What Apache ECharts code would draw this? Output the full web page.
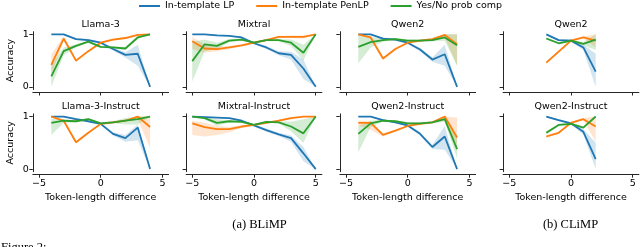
<!DOCTYPE html>
<html><head><meta charset="utf-8">
<script src="https://cdn.jsdelivr.net/npm/echarts@6/dist/echarts.min.js"></script>
<style>html,body{margin:0;padding:0;background:#fff;overflow:hidden}#c{width:640px;height:247px}</style>
</head><body><div id="c"></div>
<script>
// ---- categories / tick labels ----
const seriesNames = ['In-template LP', 'In-template PenLP', 'Yes/No prob comp'];
const panelTitles = ['Llama-3', 'Mixtral', 'Qwen2', 'Qwen2', 'Llama-3-Instruct', 'Mixtral-Instruct', 'Qwen2-Instruct', 'Qwen2-Instruct'];
const xTicks = [-5, 0, 5];
const yTicks = [0, 1];
const xsLlama = [-4, -3, -2, -1, 0, 1, 2, 3, 4];
const xsMixtral = [-5, -4, -3, -2, -1, 0, 1, 2, 3, 4, 5];
const xsQwen = [-4, -3, -2, -1, 0, 1, 2, 3, 4];
const xsClimp = [-2, -1, 0, 1, 2];

// ---- Llama-3 ----
const llama3_lp    = [1.00, 1.00, 0.91, 0.89, 0.84, 0.72, 0.61, 0.63, 0.00];
const llama3_lp_lo = [1.00, 0.99, 0.89, 0.87, 0.82, 0.69, 0.56, 0.40, 0.00];
const llama3_lp_hi = [1.00, 1.00, 0.93, 0.91, 0.86, 0.75, 0.66, 0.80, 0.00];
const llama3_pen    = [0.42, 0.92, 0.50, 0.68, 0.84, 0.90, 0.93, 0.99, 1.00];
const llama3_pen_lo = [0.25, 0.87, 0.47, 0.66, 0.82, 0.88, 0.91, 0.97, 1.00];
const llama3_pen_hi = [0.62, 0.96, 0.53, 0.70, 0.86, 0.92, 0.95, 1.00, 1.00];
const llama3_yn    = [0.20, 0.68, 0.78, 0.86, 0.76, 0.75, 0.73, 0.94, 1.00];
const llama3_yn_lo = [0.00, 0.60, 0.75, 0.84, 0.74, 0.73, 0.70, 0.91, 1.00];
const llama3_yn_hi = [0.42, 0.75, 0.81, 0.88, 0.78, 0.77, 0.76, 0.97, 1.00];

// ---- Mixtral ----
const mixtral_lp    = [1.00, 1.00, 0.98, 0.97, 0.94, 0.83, 0.75, 0.64, 0.61, 0.35, 0.00];
const mixtral_lp_lo = [1.00, 0.99, 0.97, 0.96, 0.92, 0.81, 0.72, 0.60, 0.52, 0.15, 0.00];
const mixtral_lp_hi = [1.00, 1.00, 0.99, 0.98, 0.96, 0.85, 0.78, 0.68, 0.67, 0.52, 0.00];
const mixtral_pen    = [0.87, 0.73, 0.72, 0.75, 0.79, 0.84, 0.89, 0.95, 0.95, 0.95, 1.00];
const mixtral_pen_lo = [0.72, 0.65, 0.68, 0.72, 0.77, 0.82, 0.87, 0.93, 0.93, 0.92, 1.00];
const mixtral_pen_hi = [0.95, 0.80, 0.77, 0.78, 0.81, 0.86, 0.91, 0.97, 0.98, 0.98, 1.00];
const mixtral_yn    = [0.49, 0.81, 0.78, 0.88, 0.90, 0.84, 0.89, 0.89, 0.84, 0.65, 1.00];
const mixtral_yn_lo = [0.10, 0.68, 0.72, 0.85, 0.88, 0.82, 0.87, 0.87, 0.78, 0.50, 1.00];
const mixtral_yn_hi = [0.86, 0.90, 0.84, 0.91, 0.92, 0.86, 0.91, 0.91, 0.90, 0.80, 1.00];

// ---- Qwen2 (BLiMP) ----
const qwen2_lp    = [1.00, 1.00, 0.92, 0.90, 0.84, 0.71, 0.52, 0.62, 0.00];
const qwen2_lp_lo = [1.00, 0.99, 0.90, 0.88, 0.82, 0.68, 0.48, 0.40, 0.00];
const qwen2_lp_hi = [1.00, 1.00, 0.94, 0.92, 0.86, 0.74, 0.56, 0.80, 0.00];
const qwen2_pen    = [1.00, 0.94, 0.54, 0.72, 0.84, 0.88, 0.91, 0.99, 0.81];
const qwen2_pen_lo = [0.99, 0.91, 0.51, 0.70, 0.82, 0.86, 0.89, 0.95, 0.40];
const qwen2_pen_hi = [1.00, 0.97, 0.57, 0.74, 0.86, 0.90, 0.93, 1.00, 1.00];
const qwen2_yn    = [0.76, 0.85, 0.89, 0.91, 0.88, 0.88, 0.89, 0.94, 0.79];
const qwen2_yn_lo = [0.45, 0.75, 0.86, 0.89, 0.86, 0.86, 0.87, 0.88, 0.40];
const qwen2_yn_hi = [1.00, 0.95, 0.92, 0.93, 0.90, 0.90, 0.91, 1.00, 1.00];

// ---- Qwen2 (CLiMP) ----
const cqwen2_lp    = [1.00, 0.89, 0.88, 0.75, 0.29];
const cqwen2_lp_lo = [0.98, 0.87, 0.86, 0.70, 0.00];
const cqwen2_lp_hi = [1.00, 0.91, 0.90, 0.80, 0.63];
const cqwen2_pen    = [0.46, 0.67, 0.88, 0.94, 0.88];
const cqwen2_pen_lo = [0.44, 0.65, 0.86, 0.92, 0.75];
const cqwen2_pen_hi = [0.48, 0.69, 0.90, 0.96, 1.00];
const cqwen2_yn    = [0.92, 0.83, 0.88, 0.82, 0.90];
const cqwen2_yn_lo = [0.90, 0.81, 0.86, 0.79, 0.70];
const cqwen2_yn_hi = [0.94, 0.85, 0.90, 0.85, 1.00];

// ---- Llama-3-Instruct ----
const llama3i_lp    = [1.00, 1.00, 0.95, 0.91, 0.86, 0.67, 0.59, 0.79, 0.00];
const llama3i_lp_lo = [1.00, 0.99, 0.93, 0.89, 0.84, 0.64, 0.52, 0.55, 0.00];
const llama3i_lp_hi = [1.00, 1.00, 0.97, 0.93, 0.88, 0.70, 0.65, 0.85, 0.00];
const llama3i_pen    = [1.00, 0.92, 0.51, 0.69, 0.86, 0.89, 0.92, 1.00, 0.80];
const llama3i_pen_lo = [0.99, 0.89, 0.48, 0.67, 0.84, 0.87, 0.90, 0.95, 0.40];
const llama3i_pen_hi = [1.00, 0.95, 0.54, 0.71, 0.88, 0.91, 0.94, 1.00, 1.00];
const llama3i_yn    = [0.88, 0.92, 0.91, 0.95, 0.87, 0.89, 0.92, 0.95, 1.00];
const llama3i_yn_lo = [0.65, 0.88, 0.89, 0.93, 0.85, 0.87, 0.85, 0.85, 1.00];
const llama3i_yn_hi = [0.96, 0.95, 0.93, 0.97, 0.89, 0.91, 0.97, 1.00, 1.00];

// ---- Mixtral-Instruct ----
const mixtrali_lp    = [1.00, 0.99, 0.98, 0.97, 0.92, 0.83, 0.74, 0.66, 0.59, 0.30, 0.00];
const mixtrali_lp_lo = [1.00, 0.98, 0.97, 0.96, 0.90, 0.81, 0.71, 0.63, 0.52, 0.15, 0.00];
const mixtrali_lp_hi = [1.00, 1.00, 0.99, 0.98, 0.94, 0.85, 0.77, 0.69, 0.64, 0.42, 0.00];
const mixtrali_pen    = [0.87, 0.80, 0.76, 0.76, 0.81, 0.84, 0.88, 0.92, 0.97, 1.00, 1.00];
const mixtrali_pen_lo = [0.65, 0.62, 0.65, 0.70, 0.78, 0.82, 0.86, 0.90, 0.95, 0.99, 1.00];
const mixtrali_pen_hi = [0.92, 0.88, 0.82, 0.80, 0.83, 0.86, 0.90, 0.94, 0.99, 1.00, 1.00];
const mixtrali_yn    = [1.00, 0.97, 0.88, 0.91, 0.90, 0.84, 0.90, 0.89, 0.81, 0.68, 1.00];
const mixtrali_yn_lo = [0.99, 0.95, 0.82, 0.89, 0.88, 0.82, 0.88, 0.87, 0.72, 0.50, 1.00];
const mixtrali_yn_hi = [1.00, 0.99, 0.95, 0.93, 0.92, 0.86, 0.92, 0.91, 0.90, 0.95, 1.00];

// ---- Qwen2-Instruct (BLiMP) ----
const qwen2i_lp    = [1.00, 1.00, 0.93, 0.89, 0.83, 0.67, 0.42, 0.62, 0.00];
const qwen2i_lp_lo = [1.00, 0.99, 0.91, 0.87, 0.81, 0.64, 0.38, 0.37, 0.00];
const qwen2i_lp_hi = [1.00, 1.00, 0.95, 0.91, 0.85, 0.70, 0.46, 0.82, 0.00];
const qwen2i_pen    = [0.88, 0.88, 0.65, 0.73, 0.82, 0.86, 0.89, 1.00, 0.60];
const qwen2i_pen_lo = [0.83, 0.75, 0.62, 0.71, 0.80, 0.84, 0.87, 0.93, 0.45];
const qwen2i_pen_hi = [0.92, 0.92, 0.68, 0.75, 0.84, 0.88, 0.91, 1.00, 0.98];
const qwen2i_yn    = [0.67, 0.87, 0.92, 0.91, 0.87, 0.87, 0.89, 0.95, 0.38];
const qwen2i_yn_lo = [0.32, 0.80, 0.90, 0.89, 0.85, 0.85, 0.87, 0.90, 0.20];
const qwen2i_yn_hi = [0.82, 0.92, 0.94, 0.93, 0.89, 0.89, 0.91, 1.00, 0.60];

// ---- Qwen2-Instruct (CLiMP) ----
const cqwen2i_lp    = [1.00, 0.93, 0.87, 0.71, 0.19];
const cqwen2i_lp_lo = [0.98, 0.91, 0.85, 0.66, 0.00];
const cqwen2i_lp_hi = [1.00, 0.95, 0.89, 0.76, 0.50];
const cqwen2i_pen    = [0.62, 0.69, 0.88, 0.95, 0.81];
const cqwen2i_pen_lo = [0.59, 0.67, 0.86, 0.93, 0.52];
const cqwen2i_pen_hi = [0.65, 0.71, 0.90, 0.97, 1.00];
const cqwen2i_yn    = [0.69, 0.84, 0.86, 0.79, 1.00];
const cqwen2i_yn_lo = [0.66, 0.82, 0.84, 0.77, 0.98];
const cqwen2i_yn_hi = [0.72, 0.86, 0.88, 0.81, 1.00];

const panels = [
  {xs: xsLlama,   s: [[llama3_lp, llama3_lp_lo, llama3_lp_hi], [llama3_pen, llama3_pen_lo, llama3_pen_hi], [llama3_yn, llama3_yn_lo, llama3_yn_hi]]},
  {xs: xsMixtral, s: [[mixtral_lp, mixtral_lp_lo, mixtral_lp_hi], [mixtral_pen, mixtral_pen_lo, mixtral_pen_hi], [mixtral_yn, mixtral_yn_lo, mixtral_yn_hi]]},
  {xs: xsQwen,    s: [[qwen2_lp, qwen2_lp_lo, qwen2_lp_hi], [qwen2_pen, qwen2_pen_lo, qwen2_pen_hi], [qwen2_yn, qwen2_yn_lo, qwen2_yn_hi]]},
  {xs: xsClimp,   s: [[cqwen2_lp, cqwen2_lp_lo, cqwen2_lp_hi], [cqwen2_pen, cqwen2_pen_lo, cqwen2_pen_hi], [cqwen2_yn, cqwen2_yn_lo, cqwen2_yn_hi]]},
  {xs: xsLlama,   s: [[llama3i_lp, llama3i_lp_lo, llama3i_lp_hi], [llama3i_pen, llama3i_pen_lo, llama3i_pen_hi], [llama3i_yn, llama3i_yn_lo, llama3i_yn_hi]]},
  {xs: xsMixtral, s: [[mixtrali_lp, mixtrali_lp_lo, mixtrali_lp_hi], [mixtrali_pen, mixtrali_pen_lo, mixtrali_pen_hi], [mixtrali_yn, mixtrali_yn_lo, mixtrali_yn_hi]]},
  {xs: xsQwen,    s: [[qwen2i_lp, qwen2i_lp_lo, qwen2i_lp_hi], [qwen2i_pen, qwen2i_pen_lo, qwen2i_pen_hi], [qwen2i_yn, qwen2i_yn_lo, qwen2i_yn_hi]]},
  {xs: xsClimp,   s: [[cqwen2i_lp, cqwen2i_lp_lo, cqwen2i_lp_hi], [cqwen2i_pen, cqwen2i_pen_lo, cqwen2i_pen_hi], [cqwen2i_yn, cqwen2i_yn_lo, cqwen2i_yn_hi]]}
];

// ---- styling ----
const colors = ['#1f77b4', '#ff7f0e', '#2ca02c'];
const bandColors = ['rgba(31,119,180,0.2)', 'rgba(255,127,14,0.2)', 'rgba(44,160,44,0.2)'];
const FONT = '"DejaVu Sans", sans-serif';
const FS = 9.5;
const AX = '#262626';
const lefts = [32.8, 186.1, 339.8, 503.1];
const W = 135.8;
const tops = [31.7, 113.9];
const H = 57.8;
const titleY = [25, 106.5];

const chart = echarts.init(document.getElementById('c'), null, {renderer: 'canvas'});
const grids = [], xAxes = [], yAxes = [], series = [], graphics = [];

panels.forEach((p, i) => {
  const r = Math.floor(i / 4), c = i % 4;
  grids.push({left: lefts[c], top: tops[r], width: W, height: H, containLabel: false});
  xAxes.push({
    gridIndex: i, type: 'value', min: -5.5, max: 5.5, offset: 2.5,
    axisLine: {show: true, onZero: false, lineStyle: {color: AX, width: 1}},
    axisTick: {show: true, inside: false, length: 3.5, customValues: xTicks, lineStyle: {color: AX, width: 1}},
    axisLabel: {show: r === 1, customValues: xTicks, margin: 4.5, fontFamily: FONT, fontSize: FS, color: '#000',
      formatter: v => String(v).replace('-', '\u2212')},
    splitLine: {show: false},
    name: r === 1 ? 'Token-length difference' : '', nameLocation: 'middle', nameGap: 18.5,
    nameTextStyle: {fontFamily: FONT, fontSize: FS, color: '#000'}
  });
  yAxes.push({
    gridIndex: i, type: 'value', min: -0.05, max: 1.05,
    axisLine: {show: true, onZero: false, lineStyle: {color: AX, width: 1}},
    axisTick: {show: true, inside: false, length: 3.5, customValues: yTicks, lineStyle: {color: AX, width: 1}},
    axisLabel: {show: c === 0, customValues: yTicks, margin: 4, fontFamily: FONT, fontSize: FS, color: '#000'},
    splitLine: {show: false},
    name: c === 0 ? 'Accuracy' : '', nameLocation: 'middle', nameGap: 17,
    nameTextStyle: {fontFamily: FONT, fontSize: FS, color: '#000'}
  });
  graphics.push({type: 'text', x: lefts[c] + W / 2, y: titleY[r],
    style: {text: panelTitles[i], font: FS + 'px ' + FONT, fill: '#000',
      align: 'center', verticalAlign: 'middle', textAlign: 'center', textVerticalAlign: 'middle'}});
  // bands
  p.s.forEach((trip, k) => {
    const lo = trip[1], hi = trip[2], xs = p.xs;
    series.push({
      type: 'custom', xAxisIndex: i, yAxisIndex: i, silent: true, z: 1, animation: false,
      data: [[xs[0], lo[0]]],
      renderItem: (params, api) => {
        const pts = [];
        for (let j = 0; j < xs.length; j++) pts.push(api.coord([xs[j], hi[j]]));
        for (let j = xs.length - 1; j >= 0; j--) pts.push(api.coord([xs[j], lo[j]]));
        return {type: 'polygon', shape: {points: pts}, style: {fill: bandColors[k], stroke: null}};
      }
    });
  });
  // lines
  p.s.forEach((trip, k) => {
    series.push({
      type: 'line', name: seriesNames[k], xAxisIndex: i, yAxisIndex: i,
      data: p.xs.map((x, j) => [x, trip[0][j]]),
      symbol: 'none', showSymbol: false, z: 3 + k, animation: false,
      lineStyle: {color: colors[k], width: 1.8}, itemStyle: {color: colors[k]}
    });
  });
});

graphics.push({type: 'text', x: 259.5, y: 224.3,
  style: {text: '(a) BLiMP', font: '12.5px "Liberation Serif", serif', fill: '#000',
    align: 'center', verticalAlign: 'middle', textAlign: 'center', textVerticalAlign: 'middle'}});
graphics.push({type: 'text', x: 570.5, y: 224.3,
  style: {text: '(b) CLiMP', font: '12.5px "Liberation Serif", serif', fill: '#000',
    align: 'center', verticalAlign: 'middle', textAlign: 'center', textVerticalAlign: 'middle'}});
graphics.push({type: 'text', x: 1, y: 241,
  style: {text: 'Figure 2:', font: '12.5px "Liberation Serif", serif', fill: '#000',
    align: 'left', verticalAlign: 'top', textAlign: 'left', textVerticalAlign: 'top'}});

chart.setOption({
  animation: false,
  backgroundColor: '#fff',
  legend: {
    top: 1, left: 139, padding: 0, itemWidth: 21, itemHeight: 2, itemGap: 22, icon: 'rect',
    data: seriesNames,
    textStyle: {fontFamily: FONT, fontSize: FS, color: '#000'}
  },
  grid: grids, xAxis: xAxes, yAxis: yAxes, series: series,
  graphic: {elements: graphics}
});
</script></body></html>
